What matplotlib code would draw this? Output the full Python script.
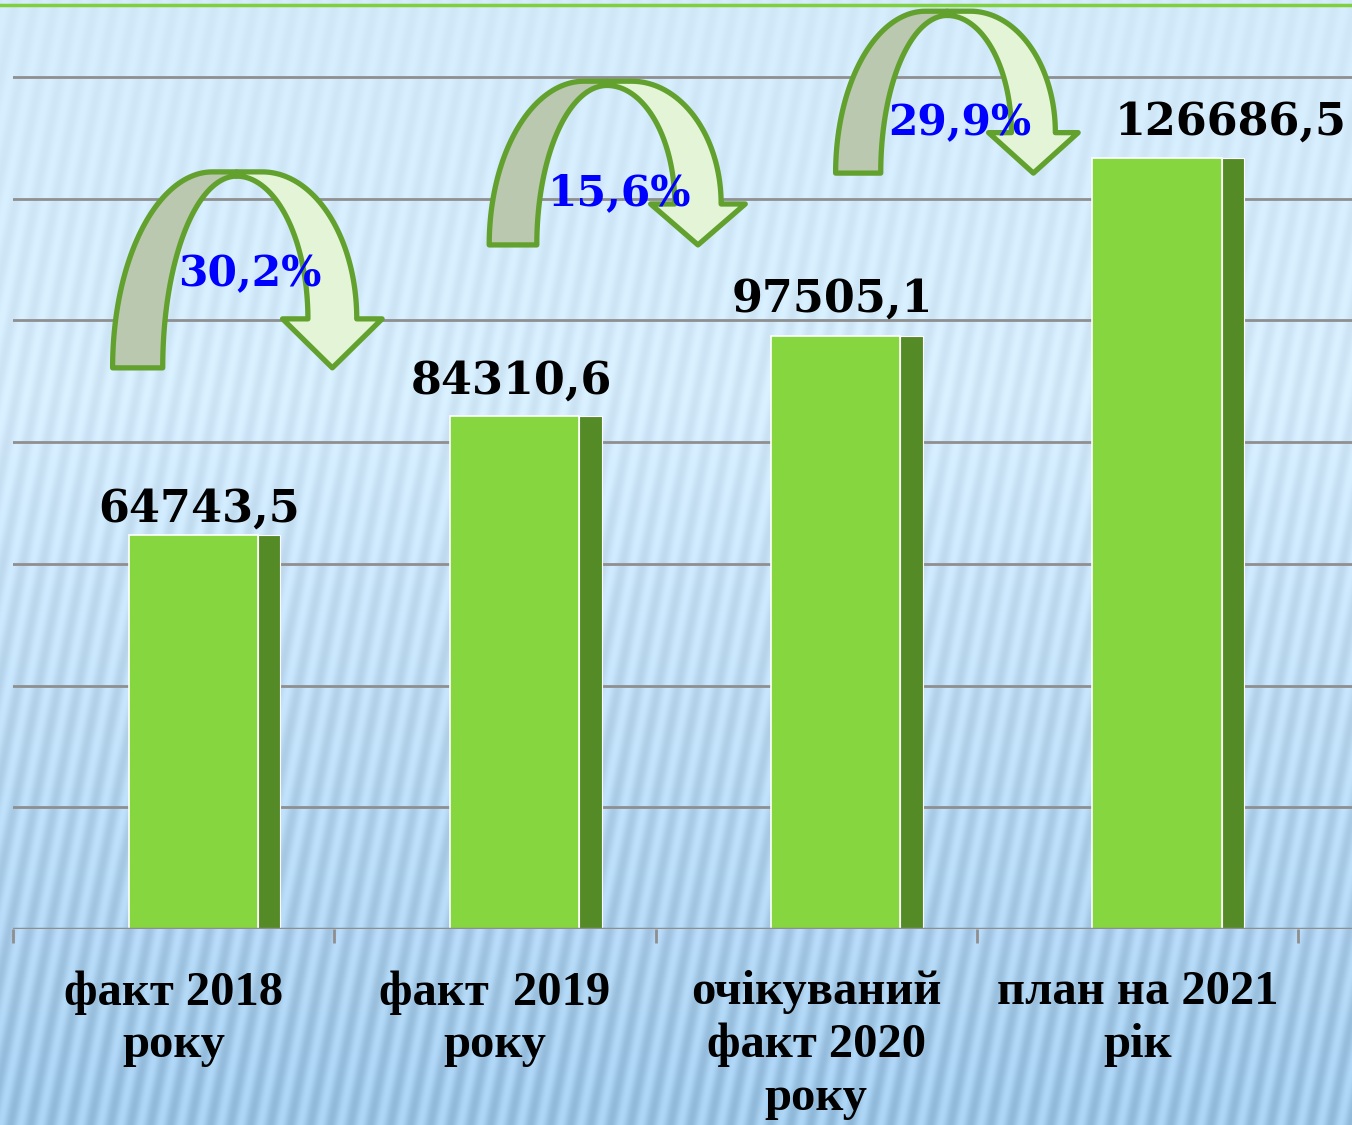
import numpy as np
import matplotlib.pyplot as plt
from matplotlib.patches import Polygon
from matplotlib.transforms import blended_transform_factory

categories = ["факт 2018\nроку", "факт  2019\nроку",
              "очікуваний\nфакт 2020\nроку", "план на 2021\nрік"]
values = [64743.5, 84310.6, 97505.1, 126686.5]

# placement of the annotations (data units)
label_dx = [0.08, 0.05, 0.05, 0.29]
label_dy = [13, 22, 24, 23]
arrow_x = [0.196, 1.349, 2.408]
arrow_base = [92200, 112400, 124200]
arrow_top = [124400, 139300, 150800]
arrow_scale = [1.0, 0.95, 0.9]
pct_y = [105600, 118900, 130500]

GREEN = '#86d63f'
DARK = '#558b27'
EDGE = '#62a12e'
GRID = '#8f8f8f'


def curved_arrow(ax, xm, yb, yt, s):
    # left (grey) half: rises from the base to the top
    cg, a_go, a_gi = xm - 0.075 * s, 0.311 * s, 0.23 * s
    # right (light) half: comes down into the arrow head
    cl, a_lo, a_li = xm + 0.08 * s, 0.294 * s, 0.222 * s
    wing = 0.155 * s
    ya = yb + 0.25 * (yt - yb)
    yt_in = yt - 700
    mid = xm + (0.374 * s + a_li) / 2

    t = np.linspace(np.pi, np.pi / 2, 60)
    outer = np.c_[cg + a_go * np.cos(t), yb + (yt - yb) * np.sin(t)]
    t = t[::-1]
    inner = np.c_[xm + a_gi * np.cos(t), yb + (yt_in - yb) * np.sin(t)]
    pts = np.vstack([outer, [[xm, yt]], inner])
    ax.add_patch(Polygon(pts, closed=True, fc='#bac8b0', ec=EDGE, lw=3.8,
                         joinstyle='round', clip_on=False, zorder=5))

    t = np.linspace(np.pi / 2, 0, 60)
    outer = np.c_[cl + a_lo * np.cos(t), ya + (yt - ya) * np.sin(t)]
    head = np.array([[mid + wing, ya], [mid, yb], [mid - wing, ya]])
    t = t[::-1]
    inner = np.c_[xm + a_li * np.cos(t), ya + (yt_in - ya) * np.sin(t)]
    pts = np.vstack([[[xm, yt]], outer, head, inner])
    ax.add_patch(Polygon(pts, closed=True, fc='#e4f5d7', ec=EDGE, lw=3.8,
                         joinstyle='round', clip_on=False, zorder=5))


fig = plt.figure(figsize=(13.52, 11.25), dpi=100)

# background: blue gradient with light streaks
bg = fig.add_axes([0, 0, 1, 1], zorder=-10)
H, W = 1125, 1352
yy, xx = np.mgrid[0:H, 0:W]
tt = yy / H
c_top = np.array([0.83, 0.92, 0.985])
c_bot = np.array([0.62, 0.78, 0.91])
mix = np.clip((tt - 0.35) / 0.65, 0, 1)[..., None]
img = c_top + (c_bot - c_top) * mix
stripe = np.sin(2 * np.pi * (xx + 0.2 * yy) / 20.0)
amp = (0.012 + 0.045 * tt)[..., None]
img = img + amp * stripe[..., None]
bg.imshow(np.clip(img, 0, 1), aspect='auto', extent=[0, 1, 0, 1])
bg.set_xlim(0, 1)
bg.set_ylim(0, 1)
bg.axhline(1 - 5 / 1125, color='#7fd03c', lw=2.5)
bg.axis('off')

ax = fig.add_axes([13 / 1352, 196 / 1125, 1339 / 1352, 919 / 1125])
ax.patch.set_alpha(0)
x = np.arange(len(values))
ax.bar(x - 0.14, values, width=0.402, align='edge', color=GREEN,
       edgecolor='white', linewidth=1.2, zorder=3)
ax.bar(x + 0.262, values, width=0.07, align='edge', color=DARK,
       edgecolor='white', linewidth=0.8, zorder=3)

ax.set_xlim(-0.5, 3.668)
ax.set_ylim(0, 151000)
ax.set_yticks(np.arange(20000, 140001, 20000))
ax.yaxis.grid(True, color=GRID, lw=2)
ax.set_axisbelow(True)
ax.tick_params(axis='y', length=0, labelleft=False)
ax.set_xticks(np.arange(-0.5, 3.6, 1.0))
ax.tick_params(axis='x', length=10, width=2, color=GRID, labelbottom=False)
for sp in ax.spines.values():
    sp.set_visible(False)
ax.axhline(0, color=GRID, lw=2.5, zorder=4)

for i, v in enumerate(values):
    ax.annotate(f"{v:.1f}".replace('.', ','), (x[i] + label_dx[i], v),
                xytext=(0, label_dy[i]), textcoords='offset pixels',
                ha='center', va='baseline', fontsize=32, fontweight='bold',
                family='DejaVu Serif', zorder=6)

for i in range(len(values) - 1):
    curved_arrow(ax, arrow_x[i], arrow_base[i], arrow_top[i], arrow_scale[i])
    pct = f"{(values[i + 1] / values[i] - 1) * 100:.1f}".replace('.', ',') + '%'
    ax.text(arrow_x[i] + 0.04, pct_y[i], pct, ha='center', va='baseline',
            color='#0000ff', fontsize=30.5, fontweight='bold',
            family='DejaVu Serif', zorder=6, clip_on=False)

trans = blended_transform_factory(ax.transData, ax.transAxes)
for i, cat in enumerate(categories):
    ax.text(x[i], -0.045, cat, transform=trans, ha='center', va='top',
            fontsize=35, fontweight='bold', family='Liberation Serif',
            linespacing=1.25)

fig.savefig('out.png', dpi=100)
